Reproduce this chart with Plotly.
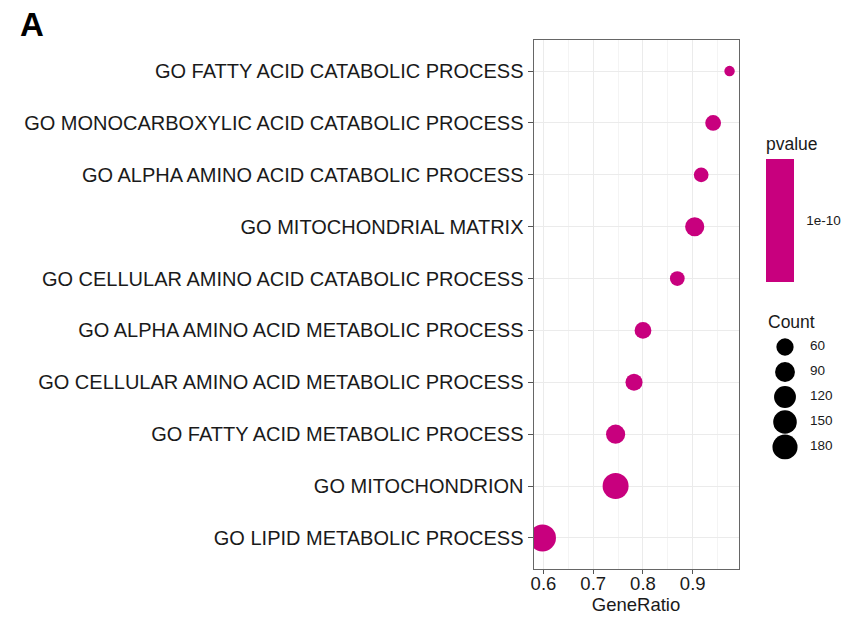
import plotly.graph_objects as go

# ---- data (bottom to top) ----
terms = [
    "GO LIPID METABOLIC PROCESS",
    "GO MITOCHONDRION",
    "GO FATTY ACID METABOLIC PROCESS",
    "GO CELLULAR AMINO ACID METABOLIC PROCESS",
    "GO ALPHA AMINO ACID METABOLIC PROCESS",
    "GO CELLULAR AMINO ACID CATABOLIC PROCESS",
    "GO MITOCHONDRIAL MATRIX",
    "GO ALPHA AMINO ACID CATABOLIC PROCESS",
    "GO MONOCARBOXYLIC ACID CATABOLIC PROCESS",
    "GO FATTY ACID CATABOLIC PROCESS",
]
gene_ratio = [0.598, 0.745, 0.745, 0.782, 0.800, 0.869, 0.904, 0.917, 0.941, 0.974]
counts = [223, 200, 81, 58, 55, 40, 81, 40, 47, 27]
pvalues = [2e-11, 4e-11, 6e-11, 8e-11, 9e-11, 1.1e-10, 1.2e-10, 1.4e-10, 1.6e-10, 1.8e-10]
legend_counts = [60, 90, 120, 150, 180]
pvalue_ticks = [1e-10]
x_ticks = [0.6, 0.7, 0.8, 0.9]

DOT = "#C8007E"
R0, R1 = 10.5, 27.0
cmin_c, cmax_c = min(counts), max(counts)


def diam(c):
    f = max(0.0, (c - cmin_c) / (cmax_c - cmin_c))
    return R0 + (R1 - R0) * f ** 0.5


W, H = 844, 618
ML, MR, MT, MB = 0, 0, 40, 49
PH = H - MT - MB


def py(px):
    """pixel row -> plot-area fraction"""
    return (H - MB - px) / PH


FONT = "Liberation Sans, Arial"

fig = go.Figure()

fig.add_trace(go.Scatter(
    x=gene_ratio, y=terms, mode="markers",
    marker=dict(
        size=[diam(c) for c in counts],
        color=pvalues,
        colorscale=[[0, DOT], [1, DOT]],
        cmin=min(pvalues), cmax=max(pvalues),
        opacity=1, line=dict(width=0),
        showscale=True,
        colorbar=dict(
            title=dict(text="pvalue", side="top",
                       font=dict(family=FONT, size=17.5, color="#1a1a1a")),
            x=766 / W, xanchor="left",
            y=py(208), yanchor="middle",
            thickness=28, thicknessmode="pixels",
            len=148, lenmode="pixels",
            outlinewidth=0, xpad=0, ypad=0,
            tickvals=pvalue_ticks, ticktext=["1e-10"],
            ticks="outside", tickcolor="white", ticklen=10,
            tickfont=dict(family=FONT, size=13.5, color="#1a1a1a"),
        ),
    ),
    showlegend=False, hoverinfo="x+y",
))

# size legend (Count) drawn on auxiliary axes
fig.add_trace(go.Scatter(
    x=[25] * len(legend_counts), y=legend_counts, mode="markers",
    marker=dict(size=[diam(c) for c in legend_counts], color="#000000",
                opacity=1, line=dict(width=0, color="#000000")),
    xaxis="x2", yaxis="y2", showlegend=False, hoverinfo="skip",
))
fig.add_trace(go.Scatter(
    x=[50] * len(legend_counts), y=legend_counts, mode="text",
    text=[str(c) for c in legend_counts], textposition="middle right",
    textfont=dict(family=FONT, size=13.5, color="#1a1a1a"),
    xaxis="x2", yaxis="y2", showlegend=False, hoverinfo="skip",
))

fig.update_layout(
    width=W, height=H,
    margin=dict(l=ML, r=MR, t=MT, b=MB),
    paper_bgcolor="white", plot_bgcolor="white",
    font=dict(family=FONT, color="#1a1a1a"),
    xaxis=dict(
        domain=[533.5 / W, 738.5 / W],
        range=[0.58, 0.992],
        tickvals=x_ticks, ticktext=[str(t) for t in x_ticks],
        ticks="outside", ticklen=4, tickcolor="#555",
        ticklabelstandoff=-6,
        tickfont=dict(size=18.5, color="#1a1a1a"),
        showgrid=True, gridcolor="#EBEBEB", gridwidth=1,
        minor=dict(dtick=0.05, tick0=0.55, showgrid=True, gridcolor="#F4F4F4", gridwidth=1),
        showline=True, linecolor="#666", linewidth=1, mirror=True,
        zeroline=False, automargin=False,
        title=dict(text="GeneRatio", font=dict(size=18.5, color="#1a1a1a"), standoff=2),
    ),
    yaxis=dict(
        type="category", categoryorder="array", categoryarray=terms,
        range=[-0.6, 9.6],
        ticks="outside", ticklen=5, tickcolor="#555",
        tickfont=dict(size=20, color="#1a1a1a"),
        showgrid=True, gridcolor="#EBEBEB", gridwidth=1,
        showline=True, linecolor="#666", linewidth=1, mirror=True,
        zeroline=False, automargin=False,
    ),
    xaxis2=dict(domain=[760 / W, 840 / W], range=[0, 80], visible=False,
                fixedrange=True, anchor="y2"),
    yaxis2=dict(domain=[py(459.5), py(334.5)],
                range=[195, 45], visible=False, fixedrange=True, anchor="x2"),
    annotations=[
        dict(text="<b>A</b>", x=18 / W, y=py(25), xref="paper", yref="paper",
             xanchor="left", yanchor="middle", showarrow=False,
             font=dict(size=33, color="black", family=FONT)),
        dict(text="Count", x=766 / W, y=py(322), xref="paper", yref="paper",
             xanchor="left", yanchor="middle", showarrow=False,
             font=dict(size=17.5, color="#1a1a1a", family=FONT)),
    ],
)

fig.write_html("out.html")
